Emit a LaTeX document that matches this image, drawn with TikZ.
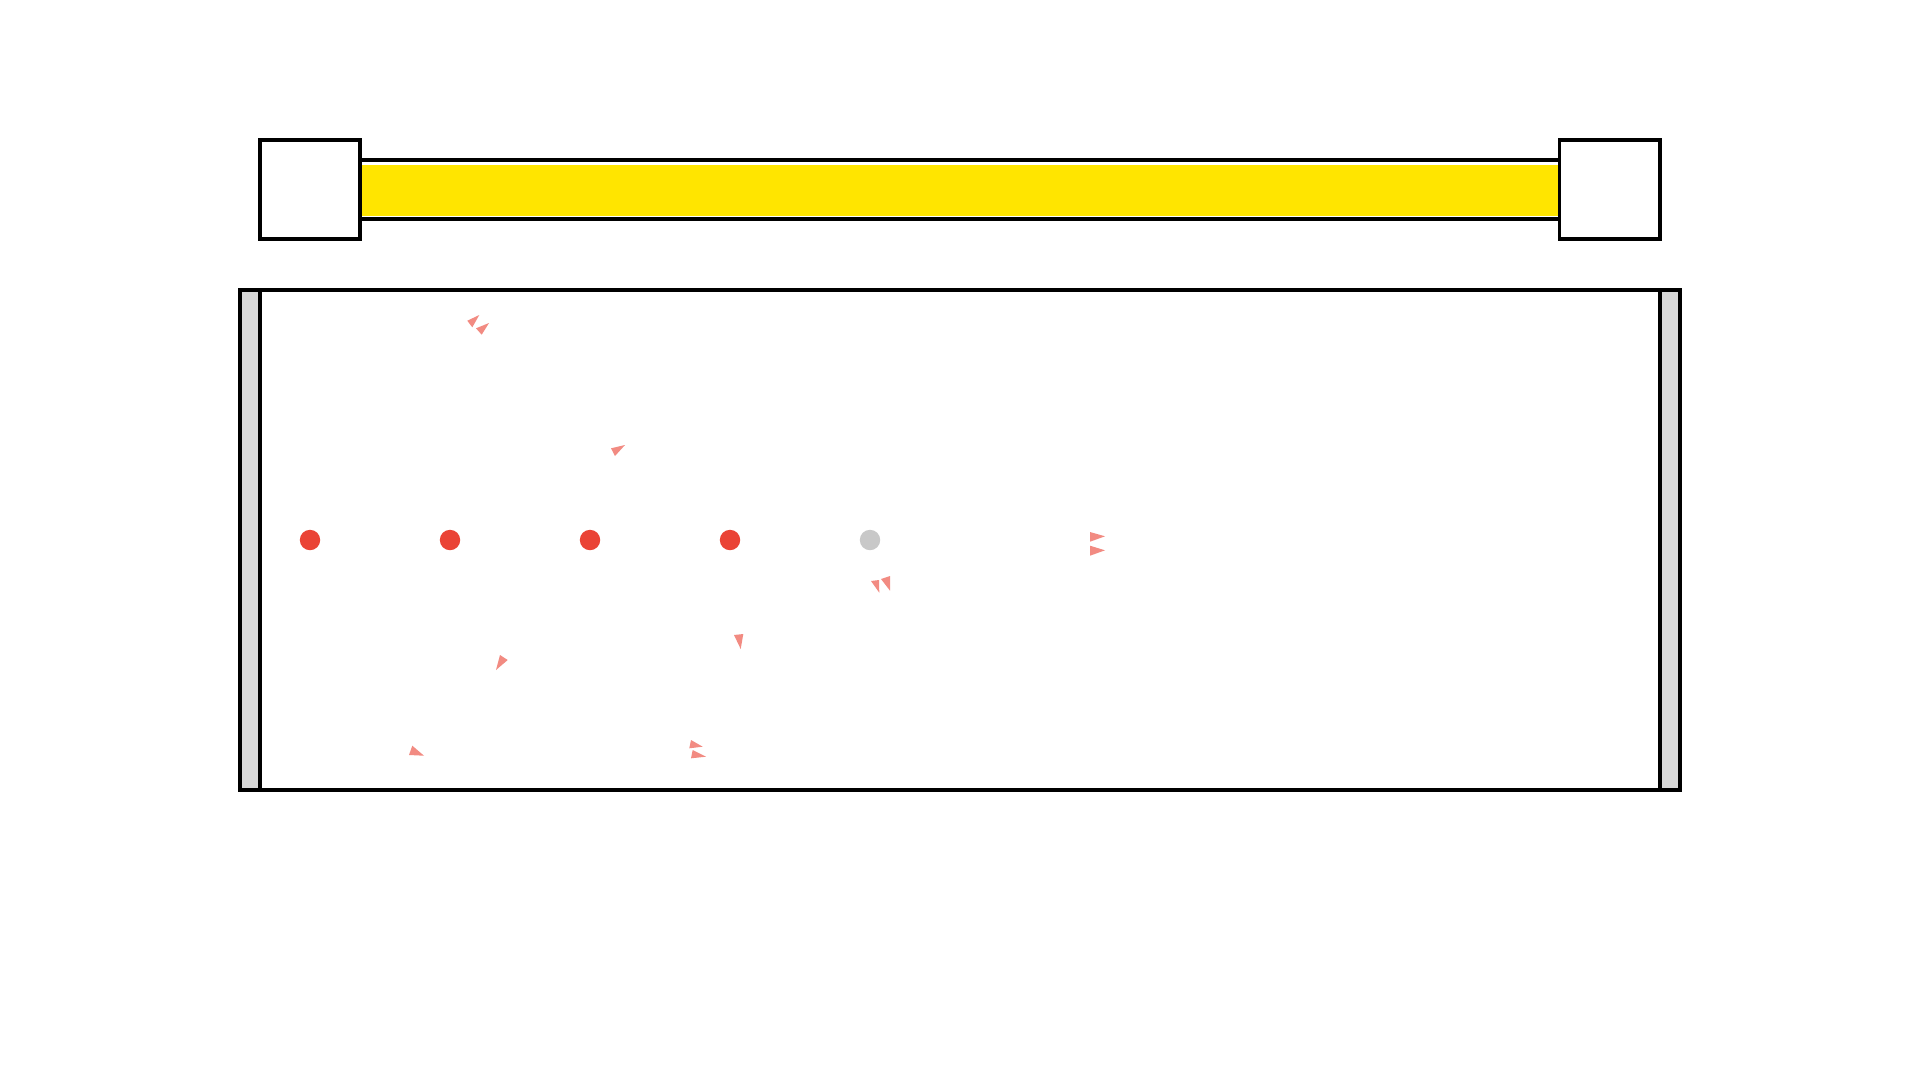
\documentclass[tikz,border=0pt]{standalone}
\definecolor{baryellow}{RGB}{255,229,0}
\definecolor{dotred}{RGB}{234,67,53}
\definecolor{dotgray}{RGB}{200,200,200}
\definecolor{trired}{RGB}{242,139,130}
\definecolor{stripgray}{RGB}{217,217,217}
\begin{document}
\begin{tikzpicture}[x=1pt,y=-1pt,
  frame/.style={draw=black,line width=3.4pt},
  reddot/.style={fill=dotred},
  graydot/.style={fill=dotgray},
  tri/.style={fill=trired}]
\useasboundingbox[fill=white] (0,0) rectangle (1920,1080);
% bar
\fill[white] (360,160) rectangle (1559,219);
\fill[baryellow] (360,164.5) rectangle (1559,215.5);
\draw[line width=3.4pt] (360,160) -- (1559,160);
\draw[line width=3.4pt] (360,219) -- (1559,219);
% end squares
\draw[frame,fill=white] (260,140) rectangle (360,239);
\draw[frame,fill=white] (1559.5,140) rectangle (1660,239);
% main box
\fill[stripgray] (240,290) rectangle (260,790);
\fill[stripgray] (1660,290) rectangle (1680,790);
\draw[frame,line join=miter] (240,290) rectangle (1680,790);
\draw[line width=3.4pt] (260,290) -- (260,790);
\draw[line width=3.4pt] (1660,290) -- (1660,790);
% dots
\foreach \x in {310,450,590,730} \fill[reddot] (\x,540) circle [radius=10.2];
\fill[graydot] (870,540) circle [radius=10.2];
% triangles
\fill[tri] (467.3,320.7) -- (479.3,315) -- (472.3,327.3) -- cycle;
\fill[tri] (476,328.3) -- (489,323) -- (481.7,334.7) -- cycle;
\fill[tri] (611,448.3) -- (625,445) -- (615,456) -- cycle;
\fill[tri] (1090,532) -- (1105,536.3) -- (1090,541.7) -- cycle;
\fill[tri] (1090,545.7) -- (1105,550.3) -- (1090,555.7) -- cycle;
\fill[tri] (871,581) -- (879,580) -- (879.3,592.7) -- cycle;
\fill[tri] (881,579) -- (890,576) -- (890,590.7) -- cycle;
\fill[tri] (500,655) -- (507.7,660) -- (496,670) -- cycle;
\fill[tri] (734,635) -- (743.3,634) -- (740.7,649) -- cycle;
\fill[tri] (412.3,745.7) -- (424,755.7) -- (409,755) -- cycle;
\fill[tri] (691,740) -- (702.7,746.7) -- (689.3,748.3) -- cycle;
\fill[tri] (692.7,750) -- (706,756.7) -- (691,758.3) -- cycle;
\end{tikzpicture}
\end{document}
